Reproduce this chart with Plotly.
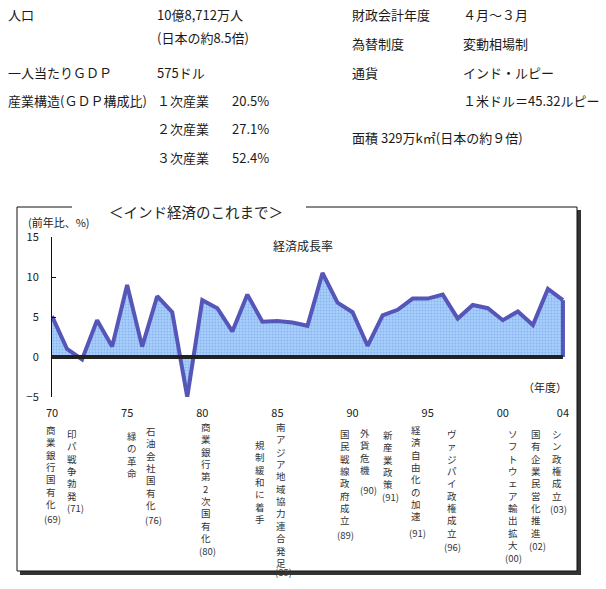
import plotly.graph_objects as go

# ---------------- data ----------------
years = list(range(1970, 2005))
growth = [5.1, 1.0, -0.3, 4.6, 1.3, 9.0, 1.3, 7.6, 5.6, -5.0,
          7.1, 6.1, 3.2, 7.8, 4.4, 4.5, 4.3, 3.9, 10.5, 6.8,
          5.6, 1.4, 5.2, 5.9, 7.3, 7.3, 7.8, 4.8, 6.5, 6.1,
          4.6, 5.7, 4.0, 8.5, 7.1]
tick_vals = [1970, 1975, 1980, 1985, 1990, 1995, 2000, 2004]
tick_text = ["70", "75", "80", "85", "90", "95", "00", "04"]
y_ticks = [-5, 0, 5, 10, 15]

event_texts = ["商業銀行国有化", "印パ戦争勃発", "緑の革命", "石油会社国有化",
               "商業銀行第2次国有化", "規制緩和に着手", "南アジア地域協力連合発足",
               "国民戦線政府成立", "外貨危機", "新産業政策", "経済自由化の加速",
               "ヴァジパイ政権成立", "ソフトウェア輸出拡大", "国有企業民営化推進",
               "シン政権成立"]
event_years = ["(69)", "(71)", "", "(76)", "(80)", "", "(85)", "(89)", "(90)",
               "(91)", "(91)", "(96)", "(00)", "(02)", "(03)"]

info_left = [("人口", "10億8,712万人"), ("", "(日本の約8.5倍)"),
             ("一人当たりＧＤＰ", "575ドル"), ("産業構造(ＧＤＰ構成比)", "１次産業"),
             ("", "２次産業"), ("", "３次産業")]
info_share = ["", "", "", "20.5%", "27.1%", "52.4%"]
info_right = [("財政会計年度", "４月～３月"), ("為替制度", "変動相場制"),
              ("通貨", "インド・ルピー"), ("", "１米ドル＝45.32ルピー"),
              ("面積 329万k㎡(日本の約９倍)", "")]

# ---------------- layout helpers (pixel -> paper) ----------------
W, H = 606, 589
L, R, T, B = 52, 567, 237, 397


def px(x):
    return (x - L) / (R - L)


def py(y):
    return (B - y) / (B - T)


FONT = "Noto Sans CJK JP, Noto Sans, sans-serif"
annotations = []
shapes = []


def text(s, x, y, size=12, xanchor="left", yanchor="middle", color="#1a1a1a"):
    annotations.append(dict(text=s, x=px(x), y=py(y), xref="paper", yref="paper",
                            xanchor=xanchor, yanchor=yanchor, showarrow=False,
                            font=dict(family=FONT, size=size, color=color)))


# top information block
TOP = 13
left_rows_y = [15, 37, 72, 100, 128, 157]
for (a, b), s, yy in zip(info_left, info_share, left_rows_y):
    if a:
        text(a, 6, yy, size=TOP)
    if b:
        text(b, 155, yy, size=TOP)
    if s:
        text(s, 230, yy, size=TOP)
right_rows_y = [15, 43, 72, 100, 137]
for (a, b), yy in zip(info_right, right_rows_y):
    if a:
        text(a, 350, yy, size=TOP)
    if b:
        text(b, 461, yy, size=TOP)

# chart labels
text("＜インド経済のこれまで＞", 196, 211, size=14.5, xanchor="center", color="#222")
text("(前年比、%)", 26, 222, size=11)
text("経済成長率", 303, 245, size=12, xanchor="center")
text("（年度）", 545, 387, size=11, xanchor="center")

# vertical event texts: (x, first char centre y, label x, label y)
EV_SIZE = 9.5
event_pos = [(51, 427, 52, 519), (72, 431, 75, 508), (131.5, 433, 0, 0),
             (150.5, 428, 153, 520), (206, 424, 207, 551), (260, 442, 0, 0),
             (281, 424, 283, 572), (345, 431, 345, 535), (365, 430, 368, 490),
             (388, 432, 390, 497), (416, 427, 417, 533), (452, 431, 452, 547),
             (513, 431, 513, 558), (536, 431, 537, 546), (557, 431, 558, 509)]
for txt, lab, (ex, y0, lx, ly) in zip(event_texts, event_years, event_pos):
    text("<br>".join(txt), ex, y0 - EV_SIZE * 0.65, size=EV_SIZE,
         xanchor="center", yanchor="top", color="#333")
    if lab:
        text(lab, lx, ly, size=9.5, xanchor="center", color="#333")


# frame with shadow
def line(x0, y0, x1, y1, color="#111", width=1):
    shapes.append(dict(type="line", xref="paper", yref="paper",
                       x0=px(x0), y0=py(y0), x1=px(x1), y1=py(y1),
                       line=dict(color=color, width=width), layer="above"))


def rect(x0, y0, x1, y1, color):
    shapes.append(dict(type="rect", xref="paper", yref="paper",
                       x0=px(x0), y0=py(y0), x1=px(x1), y1=py(y1),
                       fillcolor=color, line=dict(width=0), layer="above"))


rect(577, 210, 581, 575, "#333")
rect(20, 571, 581, 575, "#333")
line(17, 207, 17, 571)
line(17, 207, 72, 207)
line(306, 207, 577, 207)
line(577, 207, 577, 571)
line(17, 571, 577, 571)

X_MAX = 2004.27
# zero line above the area
shapes.append(dict(type="line", xref="x domain", yref="y", x0=0,
                   x1=(years[-1] - years[0]) / (X_MAX - years[0]),
                   y0=0, y1=0, line=dict(color="#222", width=4), layer="above"))

fig = go.Figure()
fig.add_trace(go.Scatter(
    x=years, y=growth, mode="lines", fill="tozeroy",
    fillcolor="#95c4f5",
    fillpattern=dict(shape=".", bgcolor="#a6d0fb", fgcolor="#6f8fe0", size=3, solidity=0.3),
    line=dict(color="#5656b8", width=4), hoverinfo="skip", showlegend=False))
fig.add_trace(go.Scatter(
    x=[years[-1], years[-1]], y=[growth[-1], 0], mode="lines",
    line=dict(color="#5656b8", width=4), hoverinfo="skip", showlegend=False))

fig.update_layout(
    width=W, height=H,
    margin=dict(l=L, r=W - R, t=T, b=H - B, pad=0),
    paper_bgcolor="white", plot_bgcolor="white",
    showlegend=False,
    annotations=annotations, shapes=shapes,
    xaxis=dict(range=[1970, X_MAX], tickvals=tick_vals, ticktext=tick_text,
               showline=False, showgrid=False, zeroline=False, ticks="",
               ticklabelstandoff=8, fixedrange=True,
               tickfont=dict(family=FONT, size=11, color="#1a1a1a")),
    yaxis=dict(range=[-5, 15], tickvals=y_ticks, showline=True, linecolor="#111", linewidth=1,
               ticks="inside", ticklen=4, tickcolor="#111", showgrid=False, zeroline=False,
               ticklabelstandoff=10, fixedrange=True,
               tickfont=dict(family=FONT, size=11, color="#1a1a1a")),
)

fig.write_html("out.html", config={"displayModeBar": False},
               post_script="document.body.style.margin='0';document.body.style.overflow='hidden';")
